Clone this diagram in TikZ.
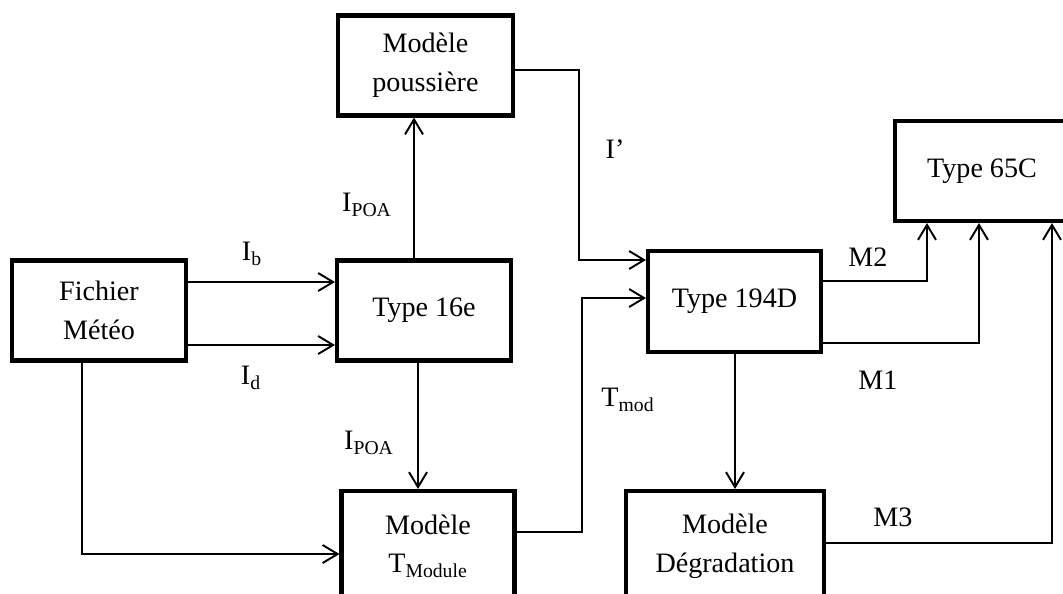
\documentclass[tikz,border=0pt]{standalone}
\usepackage{fontspec}
\setmainfont{Liberation Serif}
\usetikzlibrary{arrows.meta, positioning}

\begin{document}
\begin{tikzpicture}[
  x=0.02cm, y=-0.02cm,
  font=\fontsize{16}{22}\selectfont,
  >={Straight Barb[length=3mm, width=3.6mm]},
  every node/.style={align=center},
  blk/.style={draw, line width=2.3pt, fill=white,
              minimum width=3.5cm, minimum height=2cm,
              inner sep=3pt},
  arr/.style={->, line width=1.1pt},
  lbl/.style={inner sep=1pt}
]
\useasboundingbox (0,0) rectangle (1063,593);
\clip (0,0) rectangle (1063,593);

% blocs
\node[blk] (pous) at (425.5,65.5) {Modèle\\poussière};
\node[blk, minimum width=3.48cm] (fich) at (99,310.5) {Fichier\\Météo};
\node[blk, minimum width=3.48cm] (t16) at (424,310.5) {Type 16e};
\node[blk, minimum width=3.46cm, minimum height=2.02cm] (t194) at (734.5,301.5) {Type 194D};
\node[blk, minimum width=3.48cm] (t65) at (982,171) {Type 65C};
\node[blk, minimum width=3.46cm, minimum height=2.2cm] (tmod) at (428,546) {Modèle\\T\textsubscript{Module}};
\node[blk, minimum width=3.96cm, minimum height=2.2cm] (deg) at (725,546) {Modèle\\Dégradation};

% liaisons
\draw[arr] (fich.east |- 0,282) -- (t16.west |- 0,282);
\draw[arr] (fich.east |- 0,345) -- (t16.west |- 0,345);
\draw[arr] (t16.north -| 414,0) -- (pous.south -| 414,0);
\draw[arr] (t16.south -| 418,0) -- (tmod.north -| 418,0);
\draw[arr] (fich.south -| 82,0) |- (tmod.west |- 0,554);
\draw[arr] (pous.east |- 0,70) -| (579,260) -- (t194.west |- 0,260);
\draw[arr] (tmod.east |- 0,532) -| (582,298) -- (t194.west |- 0,298);
\draw[arr] (t194.south -| 735,0) -- (deg.north -| 735,0);
\draw[arr] (t194.east |- 0,281) -| (t65.south -| 927,0);
\draw[arr] (t194.east |- 0,343) -| (t65.south -| 979,0);
\draw[arr] (deg.east |- 0,543) -| (t65.south -| 1052,0);

% etiquettes
\node[lbl] (lib) at (252,254) {I\textsubscript{b}};
\node[lbl] (lid) at (251,378) {I\textsubscript{d}};
\node[lbl] (lpoa1) at (367,205) {I\textsubscript{POA}};
\node[lbl] (lpoa2) at (369,443) {I\textsubscript{POA}};
\node[lbl] (lip) at (615,149) {I’};
\node[lbl] (ltmod) at (628,400) {T\textsubscript{mod}};
\node[lbl] (lm2) at (868,257) {M2};
\node[lbl] (lm1) at (878,380) {M1};
\node[lbl] (lm3) at (893,517) {M3};

\end{tikzpicture}
\end{document}
